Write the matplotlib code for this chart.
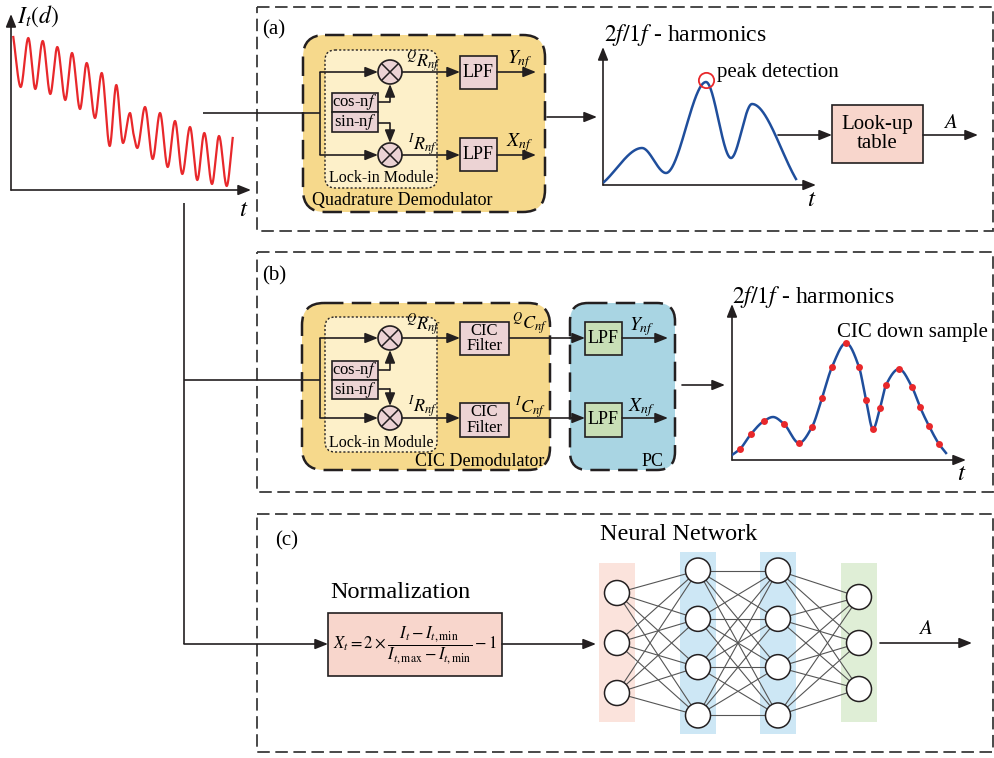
import numpy as np
import matplotlib.pyplot as plt
from matplotlib.patches import Rectangle, FancyBboxPatch, Circle

plt.rcParams['font.family'] = ['Liberation Serif', 'DejaVu Serif']
plt.rcParams['mathtext.fontset'] = 'stix'
plt.rcParams['lines.scale_dashes'] = False

W, H = 995, 758

# detector signal I_t(d): successive peaks / troughs (t, amplitude)
sig_t = [2.3, 9.7, 17.3, 24.3, 31.7, 39.3, 46.3, 54.3, 61, 69, 75.7, 84, 90.7, 98.7,
         105.3, 112, 119, 122.3, 126.3, 134, 141.7, 149, 156.7, 164, 171.3, 179,
         186.3, 193.3, 201, 208, 215.7, 221.7]
sig_v = [153, 103, 152, 101, 149, 96, 143, 90, 137, 81, 127, 72, 117, 44,
         105, 47, 77, 57, 42, 83, 31, 77, 23, 69, 16, 63,
         10, 57, 6, 54, 4, 52]

# 2f/1f harmonic of panel (a)
harm_a_t = [1, 39, 63, 103, 128, 149, 193]
harm_a_v = [3, 37, 12, 103, 27, 81, 6]

# 2f/1f harmonic of panel (b) and the CIC down-sampled points
harm_b_t = [0, 41, 68, 114, 141, 167, 214]
harm_b_v = [5, 43, 15, 118, 30, 92, 7]
cic_t = [8, 19, 32, 52, 67, 80, 90, 100, 114, 127, 134, 141, 148, 154, 167, 180, 188, 197, 207]
cic_v = [11, 26, 39, 36, 17, 33, 62, 93, 117, 93, 60, 31, 52, 75, 91, 73, 53, 34, 16]

# neurons per layer
layer_sizes = [3, 4, 4, 3]

DARK = '#231f20'
YELLOW = '#f6d98c'
LOCKIN = '#fdf0c9'
PINK = '#ecd3d4'
SALMON = '#f8d6cc'
PCBLUE = '#a9d5e3'
GREEN = '#c8dfb6'


def pchip(x, y, xs):
    # shape preserving cubic through the given points
    x = np.asarray(x, float)
    y = np.asarray(y, float)
    h = np.diff(x)
    d = np.diff(y) / h
    m = np.zeros_like(y)
    for k in range(1, len(x) - 1):
        if d[k - 1] * d[k] > 0:
            w1 = 2 * h[k] + h[k - 1]
            w2 = h[k] + 2 * h[k - 1]
            m[k] = (w1 + w2) / (w1 / d[k - 1] + w2 / d[k])
    m[0] = d[0]
    m[-1] = d[-1]
    i = np.clip(np.searchsorted(x, xs) - 1, 0, len(h) - 1)
    s = (xs - x[i]) / h[i]
    return ((2 * s**3 - 3 * s**2 + 1) * y[i] + (s**3 - 2 * s**2 + s) * h[i] * m[i]
            + (-2 * s**3 + 3 * s**2) * y[i + 1] + (s**3 - s**2) * h[i] * m[i + 1])


fig = plt.figure(figsize=(W / 100, H / 100), dpi=100)
ax = fig.add_axes([0, 0, 1, 1])
ax.set_xlim(0, W)
ax.set_ylim(H, 0)
ax.axis('off')


def inset(x0, y0, x1, y1):
    a = fig.add_axes([x0 / W, 1 - y1 / H, (x1 - x0) / W, (y1 - y0) / H])
    a.axis('off')
    a.patch.set_alpha(0)
    return a


def line(xs, ys, lw=1.2, color=DARK):
    ax.plot(xs, ys, color=color, lw=lw, solid_capstyle='butt')


def arrow(x0, y0, x1, y1, lw=1.2, size=14):
    ax.annotate('', xy=(x1, y1), xytext=(x0, y0),
                arrowprops=dict(arrowstyle='-|>,head_length=0.55,head_width=0.22',
                                color=DARK, lw=lw, shrinkA=0, shrinkB=0,
                                mutation_scale=size))


def box(x0, y0, x1, y1, fc, text=None, fs=13, lw=1.2):
    ax.add_patch(Rectangle((x0, y0), x1 - x0, y1 - y0, fc=fc, ec=DARK, lw=lw))
    if text:
        ax.text((x0 + x1) / 2, (y0 + y1) / 2, text, ha='center', va='center',
                fontsize=fs, linespacing=0.95)


def rbox(x0, y0, x1, y1, fc, ls, lw, r):
    ax.add_patch(FancyBboxPatch((x0, y0), x1 - x0, y1 - y0,
                                boxstyle='round,pad=0,rounding_size=%d' % r,
                                fc=fc, ec=DARK, lw=lw, ls=ls))


def mixer(cx, cy, r=12):
    ax.add_patch(Circle((cx, cy), r, fc=PINK, ec=DARK, lw=1.2))
    k = r * 0.707
    line([cx - k, cx + k], [cy - k, cy + k], lw=1.1)
    line([cx - k, cx + k], [cy + k, cy - k], lw=1.1)


def panel(y0, y1):
    ax.add_patch(Rectangle((257, y0), 993 - 257, y1 - y0, fill=False,
                           ec='#3a3a3a', lw=1.3, ls=(0, (9, 4))))


# ---------------- input signal ----------------
sx = inset(11, 15, 250, 190)
sx.set_xlim(0, 239)
sx.set_ylim(0, 175)
tt = np.linspace(sig_t[0], sig_t[-1], 1500)
sx.plot(tt, pchip(sig_t, sig_v, tt), color='#e8282b', lw=1.6)
arrow(11, 190, 251, 190)
arrow(11, 190, 11, 14)
ax.text(17, 16, '$I_t(d)$', ha='left', va='center', fontsize=17)
ax.text(244, 210, '$t$', ha='center', va='center', fontsize=18)

# feeds to the three branches
line([203, 320], [113, 113])
line([184, 184], [203, 644])
line([184, 320], [380, 380])
arrow(184, 644, 328, 644)

# ---------------- panel (a) ----------------
panel(7, 231)
ax.text(274, 30, '(a)', ha='center', va='center', fontsize=15)
rbox(303, 35, 545, 212, YELLOW, (0, (14, 6)), 1.8, 22)
rbox(325, 50, 437, 188, LOCKIN, (0, (1.5, 1.5)), 1.0, 10)
line([320, 320], [72, 155])
arrow(320, 72, 378, 72)
arrow(320, 155, 378, 155)
mixer(390, 72)
mixer(390, 155)
box(332, 93, 378, 112, PINK, 'cos-n$f$', fs=12)
box(332, 112, 378, 132, PINK, 'sin-n$f$', fs=12)
line([378, 390], [102, 102])
arrow(390, 102, 390, 84)
line([378, 390], [123, 123])
arrow(390, 123, 390, 143)
arrow(402, 72, 460, 72)
arrow(402, 155, 460, 155)
ax.text(423, 62, '${}^{Q}R_{nf}$', ha='center', va='center', fontsize=13)
ax.text(423, 145, '${}^{I}R_{nf}$', ha='center', va='center', fontsize=13)
ax.text(381, 178, 'Lock-in Module', ha='center', va='center', fontsize=11.5)
box(460, 56, 497, 89, PINK, 'LPF', fs=13)
box(460, 138, 497, 171, PINK, 'LPF', fs=13)
arrow(497, 72, 536, 72)
arrow(497, 155, 536, 155)
ax.text(520, 60, '$Y_{nf}$', ha='center', va='center', fontsize=14)
ax.text(520, 143, '$X_{nf}$', ha='center', va='center', fontsize=14)
ax.text(402, 200, 'Quadrature Demodulator', ha='center', va='center', fontsize=13)
arrow(547, 117, 597, 117)

ha_ax = inset(603, 48, 815, 185)
ha_ax.set_xlim(0, 212)
ha_ax.set_ylim(0, 137)
ta = np.linspace(harm_a_t[0], harm_a_t[-1], 600)
ha_ax.plot(ta, pchip(harm_a_t, harm_a_v, ta), color='#1f4e9c', lw=1.8)
pk = int(np.argmax(harm_a_v))
ha_ax.plot(harm_a_t[pk], harm_a_v[pk] + 2, 'o', ms=11, mfc='none', mec='#e8282b', mew=1.3)
arrow(603, 185, 816, 185)
arrow(603, 185, 603, 47)
ax.text(604, 35, '$2f/1f$ - harmonics', ha='left', va='center', fontsize=17)
ax.text(717, 72, 'peak detection', ha='left', va='center', fontsize=15)
ax.text(812, 200, '$t$', ha='center', va='center', fontsize=18)
arrow(778, 135, 832, 135)
box(832, 105, 923, 163, SALMON, 'Look-up\ntable', fs=15)
arrow(923, 135, 978, 135)
ax.text(950, 124, '$A$', ha='center', va='center', fontsize=15)

# ---------------- panel (b) ----------------
panel(252, 492)
ax.text(274, 276, '(b)', ha='center', va='center', fontsize=15)
rbox(302, 303, 550, 470, YELLOW, (0, (14, 6)), 1.8, 22)
rbox(325, 317, 437, 452, LOCKIN, (0, (1.5, 1.5)), 1.0, 10)
line([320, 320], [338, 418])
arrow(320, 338, 378, 338)
arrow(320, 418, 378, 418)
mixer(390, 338)
mixer(390, 418)
box(332, 361, 378, 380, PINK, 'cos-n$f$', fs=12)
box(332, 380, 378, 399, PINK, 'sin-n$f$', fs=12)
line([378, 390], [370, 370])
arrow(390, 370, 390, 350)
line([378, 390], [389, 389])
arrow(390, 389, 390, 406)
arrow(402, 338, 460, 338)
arrow(402, 418, 460, 418)
ax.text(423, 325, '${}^{Q}R_{nf}$', ha='center', va='center', fontsize=13)
ax.text(423, 407, '${}^{I}R_{nf}$', ha='center', va='center', fontsize=13)
ax.text(381, 443, 'Lock-in Module', ha='center', va='center', fontsize=11.5)
box(460, 322, 509, 355, PINK, 'CIC\nFilter', fs=12)
box(460, 403, 509, 437, PINK, 'CIC\nFilter', fs=12)
ax.text(530, 324, '${}^{Q}C_{nf}$', ha='center', va='center', fontsize=13)
ax.text(530, 408, '${}^{I}C_{nf}$', ha='center', va='center', fontsize=13)
ax.text(480, 462, 'CIC Demodulator', ha='center', va='center', fontsize=13)
rbox(570, 303, 675, 470, PCBLUE, (0, (14, 6)), 1.8, 18)
line([509, 575], [338, 338])
line([509, 575], [418, 418])
arrow(570, 338, 585, 338)
arrow(570, 418, 585, 418)
box(585, 322, 622, 355, GREEN, 'LPF', fs=13)
box(585, 403, 622, 437, GREEN, 'LPF', fs=13)
arrow(622, 338, 668, 338)
arrow(622, 418, 668, 418)
ax.text(642, 327, '$Y_{nf}$', ha='center', va='center', fontsize=14)
ax.text(642, 408, '$X_{nf}$', ha='center', va='center', fontsize=14)
ax.text(653, 461, 'PC', ha='center', va='center', fontsize=13)
arrow(682, 385, 725, 385)

# curve runs through the down-sampled points; harmonic extremes fill the gaps
knot = {t: v for t, v in zip(harm_b_t, harm_b_v)
        if min(abs(t - c) for c in cic_t) > 2}
knot.update(zip(cic_t, cic_v))
kt = sorted(knot)
kv = [knot[t] for t in kt]
hb_ax = inset(732, 305, 965, 460)
hb_ax.set_xlim(0, 233)
hb_ax.set_ylim(0, 155)
tb = np.linspace(kt[0], kt[-1], 800)
hb_ax.plot(tb, pchip(kt, kv, tb), color='#1f4e9c', lw=1.8)
hb_ax.plot(cic_t, cic_v, 'o', ms=5, color='#e8282b', mec='none', zorder=3)
arrow(732, 460, 966, 460)
arrow(732, 460, 732, 304)
ax.text(732, 297, '$2f/1f$ - harmonics', ha='left', va='center', fontsize=17)
ax.text(837, 332, 'CIC down sample', ha='left', va='center', fontsize=15)
ax.text(962, 474, '$t$', ha='center', va='center', fontsize=18)

# ---------------- panel (c) ----------------
panel(514, 752)
ax.text(287, 541, '(c)', ha='center', va='center', fontsize=15)
ax.text(400, 592, 'Normalization', ha='center', va='center', fontsize=17.5)
box(328, 613, 502, 676, SALMON)
ax.text(415, 645, r'$X_t=2\times\dfrac{I_t-I_{t,\min}}{I_{t,\max}-I_{t,\min}}-1$',
        ha='center', va='center', fontsize=12)
arrow(502, 644, 596, 644)
ax.text(600, 535, 'Neural Network', ha='left', va='center', fontsize=17.5)

layer_x = [617, 698, 778, 859]
layer_bg = ['#fbe3dc', '#cde7f5', '#cde7f5', '#dfeed6']
layer_span = [(563, 722), (552, 734), (552, 734), (563, 722)]
node_gap = [50, 48.3, 48.3, 46]
nodes = []
for n, x, gap in zip(layer_sizes, layer_x, node_gap):
    ys = 643 + (np.arange(n) - (n - 1) / 2) * gap
    nodes.append([(x, y) for y in ys])
for x, c, (y0, y1) in zip(layer_x, layer_bg, layer_span):
    ax.add_patch(Rectangle((x - 18, y0), 36, y1 - y0, fc=c, ec='none'))
for la, lb in zip(nodes[:-1], nodes[1:]):
    for (x0, y0) in la:
        for (x1, y1) in lb:
            ax.plot([x0, x1], [y0, y1], color='#555555', lw=0.8)
for layer in nodes:
    for (x, y) in layer:
        ax.add_patch(Circle((x, y), 12.5, fc='white', ec=DARK, lw=1.1, zorder=3))
arrow(880, 643, 972, 643)
ax.text(925, 630, '$A$', ha='center', va='center', fontsize=15)

fig.savefig('out.png', dpi=100)
